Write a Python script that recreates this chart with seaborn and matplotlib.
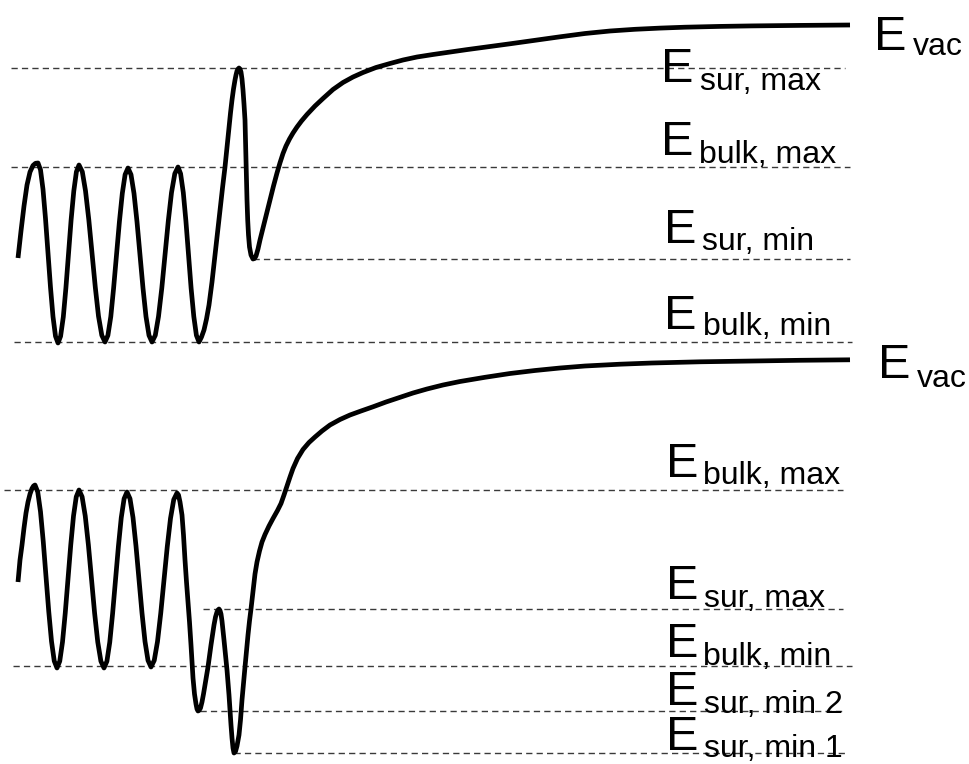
import matplotlib
matplotlib.use('Agg')
import matplotlib.pyplot as plt
import seaborn as sns

# potential curve, upper case as (x, y) with y counted downwards
top_curve = [
    (18, 258), (21, 231), (24, 206), (27, 185), (30, 172), (33, 165.5), (35.5, 163.3), (38, 163),
    (40.5, 169.8), (43, 189.3), (45.5, 218.6), (48, 253), (50.5, 287.4), (53, 316.7), (55.5, 336.2), (58, 343),
    (60.6, 336.2), (63.3, 317), (65.9, 288), (68.5, 254), (71.1, 220), (73.8, 191), (76.4, 171.8), (79, 165),
    (82.3, 171.7), (85.5, 190.8), (88.8, 219.7), (92, 253.5), (95.3, 287.3), (98.5, 316.2), (101.8, 335.3), (105, 342),
    (107.9, 335.4), (110.8, 316.6), (113.6, 288.2), (116.5, 255), (119.4, 221.8), (122.3, 193.4), (125.1, 174.6), (128, 168),
    (131, 174.6), (134, 193.4), (137, 221.8), (140, 255), (143, 288.2), (146, 316.6), (149, 335.4), (152, 342),
    (155.3, 335.3), (158.5, 316.5), (161.8, 288.1), (165, 254.5), (168.3, 220.9), (171.5, 192.6), (174.8, 173.7), (178, 167),
    (180.6, 173.7), (183.3, 192.6), (185.9, 220.9), (188.5, 254.5), (191.1, 288.1), (193.8, 316.5), (196.4, 335.3), (199, 342),
    (201.5, 337), (204, 330), (206.5, 319), (209, 305), (212, 282), (215, 255), (217.5, 232), (220, 210),
    (222.5, 188), (225, 167), (227, 147), (229, 128), (230.5, 113), (232, 100), (233.5, 89), (235, 80),
    (236, 75), (237, 71), (238, 69), (239, 68),
    (240, 69), (241, 72), (242, 79), (243, 90), (244, 104), (245, 120), (245.5, 140), (246, 160),
    (246.5, 180), (247, 200), (247.7, 220), (248.5, 235), (249.5, 247), (251, 255), (253, 259),
    (254.5, 258.5), (256, 256), (258, 249), (260, 240), (262.5, 230), (265, 220), (267.5, 210), (270, 200),
    (273.5, 186), (277, 173), (280, 162.8), (283, 153.5), (286, 146), (289.5, 139), (293, 133), (297, 127),
    (301.5, 121), (307, 114.5), (315, 106), (323, 98.5), (333, 89.5), (343, 82.5), (353, 77), (363, 72.5),
    (376, 67.5), (390, 63.5), (403, 60), (417, 57), (433, 54.5), (450, 52), (467, 49.6), (485, 47.2),
    (510, 43.8), (535, 40.3), (560, 36.8), (585, 33.5), (610, 31), (635, 29.3), (660, 28.1), (685, 27.2),
    (720, 26.4), (752, 25.9), (800, 25.4), (850, 25),
]

# potential curve, lower case
bot_curve = [
    (18, 582), (20, 560), (22, 545), (24, 528), (26, 513), (28, 502), (30, 494), (32, 488.5), (33.5, 486), (35, 485),
    (37.75, 492), (40.5, 511.7), (43.25, 541.5), (46, 576.5), (48.75, 611.5), (51.5, 641.3), (54.25, 661), (57, 668),
    (59.75, 661.2), (62.5, 642), (65.25, 613), (68, 579), (70.75, 545), (73.5, 516), (76.25, 496.8), (79, 490),
    (82.1, 496.8), (85.25, 516), (88.4, 545), (91.5, 579), (94.6, 613), (97.75, 642), (100.9, 661.2), (104, 668),
    (106.9, 661.3), (109.75, 642.3), (112.6, 613.6), (115.5, 580), (118.4, 546.4), (121.25, 517.7), (124.1, 498.7), (127, 492),
    (130, 498.7), (133, 517.5), (136, 546.1), (139, 579.5), (142, 613), (145, 641.5), (148, 660.4), (151, 667),
    (154.25, 660.4), (157.5, 641.6), (160.75, 613.2), (164, 580), (167.25, 546.8), (170.5, 518.4), (173.75, 499.6), (177, 493),
    (178.5, 495), (180, 502), (182, 515), (183.5, 535), (185, 560), (186.5, 582), (188, 602), (189.5, 622),
    (191, 645), (193, 678), (194.5, 694), (196, 704), (197, 709), (198, 711),
    (199, 710.5), (200.5, 708), (202, 702), (203.5, 694), (205, 685), (206.5, 676), (208, 667), (209.5, 656),
    (211, 645), (212.5, 635), (214, 625), (215.5, 617), (217, 612), (218, 610), (219, 609),
    (220, 610.5), (221, 614), (222, 621), (223, 630), (224, 640), (225, 650), (226, 660), (227, 670),
    (228, 682), (229, 695), (230, 710), (231, 725), (232, 738), (233, 748), (234, 753),
    (235.5, 751.5), (237, 746), (239, 735), (240.5, 720), (242, 700), (243.5, 683), (245, 667), (246.5, 651),
    (248, 635), (249.5, 621), (251, 609), (252, 600), (253.5, 587), (255, 574), (257, 562), (259.5, 551),
    (262, 542), (265, 534.5), (269, 526), (273, 518.5), (277.5, 510.5), (281, 503.5), (284, 495), (287, 486),
    (290, 477), (293, 468.5), (297.5, 458.5), (303, 449.5), (309, 442.5), (315, 437), (322, 431), (330, 425),
    (340, 419.5), (350, 415), (361, 411), (373, 406.8), (386, 402), (400, 397.3), (413, 393), (427, 389),
    (443, 385), (460, 381.5), (485, 377.3), (510, 373.5), (535, 370.5), (560, 368), (585, 366), (620, 364.2),
    (652, 363), (700, 361.8), (752, 361), (800, 360.3), (850, 359.8),
]

# reference levels (dashed)
top_levels = [68, 167, 259, 342]
top_lv_start = [11, 11, 253, 14]
top_lv_end = [845, 850, 850, 852]
bot_levels = [490, 609, 666, 711, 753]
bot_lv_start = [4, 203, 13, 200, 234]
bot_lv_end = [843, 843, 852, 845, 845]

top_subs = ['vac', 'sur, max', 'bulk, max', 'sur, min', 'bulk, min']
bot_subs = ['vac', 'bulk, max', 'sur, max', 'bulk, min', 'sur, min 2', 'sur, min 1']

sns.set_style('white')
plt.rcParams['font.family'] = ['Liberation Sans', 'DejaVu Sans']

fig = plt.figure(figsize=(9.7, 7.64), dpi=100)
ax = fig.add_axes([0, 0, 1, 1])

dash = (0, (4.5, 3))
ax.hlines(top_levels, top_lv_start, top_lv_end, colors='#3a3a3a', linestyles=[dash], lw=1.0)
ax.hlines(bot_levels, bot_lv_start, bot_lv_end, colors='#3a3a3a', linestyles=[dash], lw=1.0)

for curve in (top_curve, bot_curve):
    cx, cy = zip(*curve)
    sns.lineplot(x=list(cx), y=list(cy), sort=False, estimator=None, color='black', lw=3.4,
                 solid_joinstyle='round', solid_capstyle='butt', ax=ax)

# label placement: (E x, E baseline, sub x, sub baseline)
top_pos = [(874, 50, 913, 55), (661, 82, 700, 90), (661, 155, 699, 163),
           (664, 243, 702, 250), (664, 329, 703, 335)]
bot_pos = [(878, 378, 917, 387), (666, 477, 703, 484), (666, 599, 704, 607),
           (666, 657, 703, 665), (666, 705, 704, 713), (666, 750, 704, 757)]

for subs, pos in [(top_subs, top_pos), (bot_subs, bot_pos)]:
    for s, (ex, ey, sx, sy) in zip(subs, pos):
        ax.text(ex, ey, 'E', fontsize=35, va='baseline', ha='left', color='black')
        ax.text(sx, sy, s, fontsize=23, va='baseline', ha='left', color='black')

ax.set_xlim(0, 970)
ax.set_ylim(764, 0)
ax.axis('off')

fig.savefig('out.png', dpi=100)
